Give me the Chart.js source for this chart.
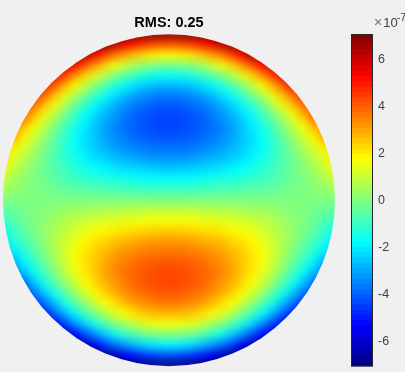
<!DOCTYPE html>
<html>
<head>
<meta charset="utf-8">
<title>RMS: 0.25</title>
<script src="https://cdn.jsdelivr.net/npm/chart.js@4/dist/chart.umd.min.js"></script>
<style>
    html, body { margin: 0; padding: 0; background: #f0f0f0; }
    body { position: relative; width: 405px; height: 372px; overflow: hidden; }
    canvas { position: absolute; display: block; }
    #disc-chart { left: -31px; top: 0; }
    #colorbar-chart { left: 340px; top: 0; }
    #exponent {
        position: absolute; left: 374px; top: 14px; white-space: nowrap;
        font: 13px "Liberation Sans", sans-serif; color: #404040;
    }
    #exponent .times { color: #707070; font-size: 14px; margin-right: 1px; }
    #exponent sup { font-size: 11px; line-height: 0; vertical-align: 6px; margin-left: -1px; }
</style>
</head>
<body>
<canvas id="disc-chart" width="400" height="400"></canvas>
<canvas id="colorbar-chart" width="65" height="382"></canvas>
<div id="exponent"><span class="times">×</span>10<sup>-7</sup></div>

<script>
const chartTitle = 'RMS: 0.25';
const colorbarTicks = [-6, -4, -2, 0, 2, 4, 6];
const colorMin = -7.05;
const colorMax = 7.09;
const colorLevelCount = 64;

// Values in units of 1e-7, top row first. Rows are centred on the disc axis.
// Cells past the rim just hold the rim colour so the blur has something to pull in.
const cellRows = [
    [7.0,7.1,7.1,7.1,7.1,7.1,7.1,7.1,7.1,7.1,7.1,7.1,7.0],
    [6.7,6.9,7.0,7.1,7.1,7.1,7.1,7.1,7.1,7.1,7.1,7.1,7.1,7.1,7.0,6.9,6.7],
    [6.3,6.5,6.7,6.8,7.0,7.1,7.1,7.1,7.1,7.1,7.0,7.1,7.1,7.1,7.1,7.1,7.0,6.8,6.7,6.5,6.3],
    [5.9,6.0,6.2,6.4,6.6,6.7,6.9,6.1,5.4,4.9,4.5,4.3,4.2,4.3,4.5,4.9,5.4,6.1,6.9,6.7,6.6,6.4,6.2,6.0,5.9],
    [5.5,5.7,5.9,6.1,6.3,6.5,5.3,4.4,3.6,3.0,2.5,2.1,1.9,1.8,1.9,2.1,2.5,3.0,3.6,4.4,5.3,6.5,6.3,6.1,5.9,5.7,5.5],
    [5.2,5.4,5.5,5.7,6.0,5.3,4.2,3.2,2.3,1.6,1.0,0.5,0.2,0,-0.1,0,0.2,0.5,1.0,1.6,2.3,3.2,4.2,5.3,6.0,5.7,5.5,5.4,5.2],
    [4.8,5.0,5.2,5.4,5.6,4.5,3.3,2.3,1.4,0.6,-0.1,-0.6,-1.1,-1.4,-1.6,-1.6,-1.6,-1.4,-1.1,-0.6,-0.1,0.6,1.4,2.3,3.3,4.5,5.6,5.4,5.2,5.0,4.8],
    [4.5,4.7,4.9,5.1,4.0,2.8,1.8,0.8,0,-0.8,-1.4,-1.9,-2.3,-2.6,-2.7,-2.8,-2.7,-2.6,-2.3,-1.9,-1.4,-0.8,0,0.8,1.8,2.8,4.0,5.1,4.9,4.7,4.5],
    [4.1,4.3,4.5,4.7,3.8,2.6,1.5,0.5,-0.3,-1.1,-1.8,-2.3,-2.8,-3.2,-3.4,-3.6,-3.6,-3.6,-3.4,-3.2,-2.8,-2.3,-1.8,-1.1,-0.3,0.5,1.5,2.6,3.8,4.7,4.5,4.3,4.1],
    [3.8,4.0,4.2,3.7,2.5,1.5,0.5,-0.4,-1.2,-1.9,-2.5,-3.0,-3.4,-3.7,-3.9,-4.1,-4.1,-4.1,-3.9,-3.7,-3.4,-3.0,-2.5,-1.9,-1.2,-0.4,0.5,1.5,2.5,3.7,4.2,4.0,3.8],
    [3.4,3.5,3.7,3.9,2.6,1.5,0.6,-0.3,-1.1,-1.8,-2.4,-2.9,-3.3,-3.7,-4.0,-4.2,-4.3,-4.4,-4.3,-4.2,-4.0,-3.7,-3.3,-2.9,-2.4,-1.8,-1.1,-0.3,0.6,1.5,2.6,3.9,3.7,3.5,3.4],
    [3.1,3.2,3.4,2.7,1.7,0.8,0,-0.8,-1.5,-2.1,-2.6,-3.1,-3.5,-3.8,-4.0,-4.2,-4.3,-4.4,-4.3,-4.2,-4.0,-3.8,-3.5,-3.1,-2.6,-2.1,-1.5,-0.8,0,0.8,1.7,2.7,3.4,3.2,3.1],
    [2.6,2.7,2.9,3.0,1.9,1.1,0.3,-0.4,-1.1,-1.7,-2.2,-2.6,-3.0,-3.4,-3.6,-3.9,-4.0,-4.1,-4.1,-4.1,-4.0,-3.9,-3.6,-3.4,-3.0,-2.6,-2.2,-1.7,-1.1,-0.4,0.3,1.1,1.9,3.0,2.9,2.7,2.6],
    [2.3,2.4,2.5,2.0,1.3,0.6,0,-0.6,-1.2,-1.7,-2.1,-2.5,-2.8,-3.1,-3.3,-3.5,-3.6,-3.7,-3.7,-3.7,-3.6,-3.5,-3.3,-3.1,-2.8,-2.5,-2.1,-1.7,-1.2,-0.6,0,0.6,1.3,2.0,2.5,2.4,2.3],
    [1.9,2.0,2.1,1.4,0.8,0.3,-0.2,-0.7,-1.1,-1.5,-1.9,-2.2,-2.4,-2.7,-2.8,-3.0,-3.1,-3.2,-3.2,-3.2,-3.1,-3.0,-2.8,-2.7,-2.4,-2.2,-1.9,-1.5,-1.1,-0.7,-0.2,0.3,0.8,1.4,2.1,2.0,1.9],
    [1.4,1.5,1.6,1.0,0.5,0.1,-0.3,-0.6,-0.9,-1.2,-1.5,-1.7,-1.9,-2.1,-2.2,-2.3,-2.4,-2.5,-2.5,-2.5,-2.4,-2.3,-2.2,-2.1,-1.9,-1.7,-1.5,-1.2,-0.9,-0.6,-0.3,0.1,0.5,1.0,1.6,1.5,1.4],
    [0.9,1.0,1.0,0.6,0.3,0,-0.2,-0.5,-0.7,-0.9,-1.1,-1.2,-1.3,-1.4,-1.5,-1.6,-1.7,-1.7,-1.7,-1.7,-1.7,-1.6,-1.5,-1.4,-1.3,-1.2,-1.1,-0.9,-0.7,-0.5,-0.2,0,0.3,0.6,1.0,1.0,0.9],
    [0.5,0.5,0.5,0.3,0.1,0,-0.1,-0.2,-0.4,-0.5,-0.5,-0.6,-0.7,-0.7,-0.8,-0.8,-0.9,-0.9,-0.9,-0.9,-0.9,-0.8,-0.8,-0.7,-0.7,-0.6,-0.5,-0.5,-0.4,-0.2,-0.1,0,0.1,0.3,0.5,0.5,0.5],
    [0,0,0,0,0,0,0,0,0,0,0,0,0,0,0,0,0,0,0,0,0,0,0,0,0,0,0,0,0,0,0,0,0,0,0,0,0],
    [-0.5,-0.5,-0.5,-0.3,-0.1,0,0.1,0.2,0.4,0.5,0.5,0.6,0.7,0.7,0.8,0.8,0.9,0.9,0.9,0.9,0.9,0.8,0.8,0.7,0.7,0.6,0.5,0.5,0.4,0.2,0.1,0,-0.1,-0.3,-0.5,-0.5,-0.5],
    [-0.9,-1.0,-1.0,-0.6,-0.3,0,0.2,0.5,0.7,0.9,1.1,1.2,1.3,1.4,1.5,1.6,1.7,1.7,1.7,1.7,1.7,1.6,1.5,1.4,1.3,1.2,1.1,0.9,0.7,0.5,0.2,0,-0.3,-0.6,-1.0,-1.0,-0.9],
    [-1.4,-1.5,-1.6,-1.0,-0.5,-0.1,0.3,0.6,0.9,1.2,1.5,1.7,1.9,2.1,2.2,2.3,2.4,2.5,2.5,2.5,2.4,2.3,2.2,2.1,1.9,1.7,1.5,1.2,0.9,0.6,0.3,-0.1,-0.5,-1.0,-1.6,-1.5,-1.4],
    [-1.9,-2.0,-2.1,-1.4,-0.8,-0.3,0.2,0.7,1.1,1.5,1.9,2.2,2.4,2.7,2.8,3.0,3.1,3.2,3.2,3.2,3.1,3.0,2.8,2.7,2.4,2.2,1.9,1.5,1.1,0.7,0.2,-0.3,-0.8,-1.4,-2.1,-2.0,-1.9],
    [-2.3,-2.4,-2.5,-2.0,-1.3,-0.6,0,0.6,1.2,1.7,2.1,2.5,2.8,3.1,3.3,3.5,3.6,3.7,3.7,3.7,3.6,3.5,3.3,3.1,2.8,2.5,2.1,1.7,1.2,0.6,0,-0.6,-1.3,-2.0,-2.5,-2.4,-2.3],
    [-2.6,-2.7,-2.9,-3.0,-1.9,-1.1,-0.3,0.4,1.1,1.7,2.2,2.6,3.0,3.4,3.6,3.9,4.0,4.1,4.1,4.1,4.0,3.9,3.6,3.4,3.0,2.6,2.2,1.7,1.1,0.4,-0.3,-1.1,-1.9,-3.0,-2.9,-2.7,-2.6],
    [-3.1,-3.2,-3.4,-2.7,-1.7,-0.8,0,0.8,1.5,2.1,2.6,3.1,3.5,3.8,4.0,4.2,4.3,4.4,4.3,4.2,4.0,3.8,3.5,3.1,2.6,2.1,1.5,0.8,0,-0.8,-1.7,-2.7,-3.4,-3.2,-3.1],
    [-3.4,-3.5,-3.7,-3.9,-2.6,-1.5,-0.6,0.3,1.1,1.8,2.4,2.9,3.3,3.7,4.0,4.2,4.3,4.4,4.3,4.2,4.0,3.7,3.3,2.9,2.4,1.8,1.1,0.3,-0.6,-1.5,-2.6,-3.9,-3.7,-3.5,-3.4],
    [-3.8,-4.0,-4.2,-3.7,-2.5,-1.5,-0.5,0.4,1.2,1.9,2.5,3.0,3.4,3.7,3.9,4.1,4.1,4.1,3.9,3.7,3.4,3.0,2.5,1.9,1.2,0.4,-0.5,-1.5,-2.5,-3.7,-4.2,-4.0,-3.8],
    [-4.1,-4.3,-4.5,-4.7,-3.8,-2.6,-1.5,-0.5,0.3,1.1,1.8,2.3,2.8,3.2,3.4,3.6,3.6,3.6,3.4,3.2,2.8,2.3,1.8,1.1,0.3,-0.5,-1.5,-2.6,-3.8,-4.7,-4.5,-4.3,-4.1],
    [-4.5,-4.7,-4.9,-5.1,-4.0,-2.8,-1.8,-0.8,0,0.8,1.4,1.9,2.3,2.6,2.7,2.8,2.7,2.6,2.3,1.9,1.4,0.8,0,-0.8,-1.8,-2.8,-4.0,-5.1,-4.9,-4.7,-4.5],
    [-4.8,-5.0,-5.2,-5.4,-5.6,-4.5,-3.3,-2.3,-1.4,-0.6,0.1,0.6,1.1,1.4,1.6,1.6,1.6,1.4,1.1,0.6,0.1,-0.6,-1.4,-2.3,-3.3,-4.5,-5.6,-5.4,-5.2,-5.0,-4.8],
    [-5.2,-5.4,-5.5,-5.7,-6.0,-5.3,-4.2,-3.2,-2.3,-1.6,-1.0,-0.5,-0.2,0,0.1,0,-0.2,-0.5,-1.0,-1.6,-2.3,-3.2,-4.2,-5.3,-6.0,-5.7,-5.5,-5.4,-5.2],
    [-5.5,-5.7,-5.9,-6.1,-6.3,-6.5,-5.3,-4.4,-3.6,-3.0,-2.5,-2.1,-1.9,-1.8,-1.9,-2.1,-2.5,-3.0,-3.6,-4.4,-5.3,-6.5,-6.3,-6.1,-5.9,-5.7,-5.5],
    [-5.9,-6.0,-6.2,-6.4,-6.6,-6.7,-6.9,-6.1,-5.4,-4.9,-4.5,-4.3,-4.2,-4.3,-4.5,-4.9,-5.4,-6.1,-6.9,-6.7,-6.6,-6.4,-6.2,-6.0,-5.9],
    [-6.3,-6.5,-6.7,-6.8,-7.0,-7.1,-7.1,-7.1,-7.1,-7.1,-7.0,-7.1,-7.1,-7.1,-7.1,-7.1,-7.0,-6.8,-6.7,-6.5,-6.3],
    [-6.7,-6.9,-7.0,-7.1,-7.1,-7.1,-7.1,-7.1,-7.1,-7.1,-7.1,-7.1,-7.1,-7.1,-7.0,-6.9,-6.7],
    [-7.0,-7.1,-7.1,-7.1,-7.1,-7.1,-7.1,-7.1,-7.1,-7.1,-7.1,-7.1,-7.0]
];

const cellsPerRadius = 16;
const backgroundColor = '#f0f0f0';
const textColor = '#404040';

function jetColor(t) {
    const channel = center => Math.round(255 * Math.min(1, Math.max(0, 1.5 - Math.abs(4 * t - center))));
    return `rgb(${channel(3)}, ${channel(2)}, ${channel(1)})`;
}

// Where a value sits on the colour range, 0 to 1
function colorPosition(value) {
    return Math.min(1, Math.max(0, (value - colorMin) / (colorMax - colorMin)));
}

// Turn the rows into points on the unit disc
const cells = [];
const middleRow = (cellRows.length - 1) / 2;
cellRows.forEach((row, r) => {
    row.forEach((value, c) => {
        cells.push({
            x: (c - (row.length - 1) / 2) / cellsPerRadius,
            y: (middleRow - r) / cellsPerRadius,
            value: value
        });
    });
});

// Smooth the cells and cut them to the circle
const discPlugin = {
    id: 'disc',
    afterDatasetsDraw(chart) {
        const { ctx, canvas, scales } = chart;
        const snapshot = document.createElement('canvas');
        snapshot.width = canvas.width;
        snapshot.height = canvas.height;
        snapshot.getContext('2d').drawImage(canvas, 0, 0);

        const centerX = scales.x.getPixelForValue(0);
        const centerY = scales.y.getPixelForValue(0);
        const radius = scales.x.getPixelForValue(1) - centerX;

        ctx.save();
        ctx.fillStyle = backgroundColor;
        ctx.fillRect(0, 0, canvas.width, canvas.height);
        ctx.beginPath();
        ctx.arc(centerX, centerY, radius, 0, Math.PI * 2);
        ctx.clip();
        ctx.filter = 'blur(4.5px)';
        ctx.drawImage(snapshot, 0, 0);
        ctx.restore();

        chart.titleBlock.draw();
    }
};

new Chart(document.getElementById('disc-chart'), {
    type: 'scatter',
    data: {
        datasets: [{
            data: cells,
            clip: false,
            pointStyle: 'rect',
            pointRadius: 8,
            pointBorderWidth: 0,
            pointBackgroundColor: ctx => jetColor(colorPosition(ctx.raw.value))
        }]
    },
    options: {
        responsive: false,
        animation: false,
        events: [],
        layout: { padding: { left: 34, right: 34, top: 8, bottom: 34 } },
        scales: {
            x: { type: 'linear', min: -1, max: 1, display: false },
            y: { type: 'linear', min: -1, max: 1, display: false }
        },
        plugins: {
            legend: { display: false },
            tooltip: { enabled: false },
            title: {
                display: true,
                text: chartTitle,
                color: '#000',
                font: { family: '"Liberation Sans", sans-serif', size: 14.5, weight: 'bold' },
                padding: { top: 6, bottom: 3 }
            }
        }
    },
    plugins: [discPlugin]
});

// One bar per colour band, each reaching to the top so no seams show.
// Chart.js paints the first dataset last, so the top band goes first.
const colorBands = [];
for (let i = colorLevelCount - 1; i >= 0; i--) {
    colorBands.push(colorMin + (colorMax - colorMin) * i / colorLevelCount);
}

const framePlugin = {
    id: 'frame',
    afterDatasetsDraw(chart) {
        const { ctx, chartArea } = chart;
        ctx.save();
        ctx.strokeStyle = '#262626';
        ctx.lineWidth = 1;
        ctx.strokeRect(chartArea.left + 0.5, chartArea.top + 0.5, chartArea.width - 1, chartArea.height - 1);
        ctx.restore();
    }
};

new Chart(document.getElementById('colorbar-chart'), {
    type: 'bar',
    data: {
        labels: [''],
        datasets: colorBands.map(low => ({
            data: [[low, colorMax]],
            backgroundColor: jetColor(colorPosition(low) + 0.5 / colorLevelCount),
            borderWidth: 0,
            grouped: false,
            barPercentage: 1,
            categoryPercentage: 1
        }))
    },
    options: {
        responsive: false,
        animation: false,
        events: [],
        layout: { autoPadding: false, padding: { left: 11, top: 34, bottom: 6 } },
        scales: {
            x: { display: false },
            y: {
                position: 'right',
                min: colorMin,
                max: colorMax,
                afterBuildTicks(scale) {
                    scale.ticks = colorbarTicks.map(value => ({ value }));
                },
                afterFit(scale) {
                    scale.width = 32;
                },
                border: { display: false },
                grid: { drawOnChartArea: false, tickLength: -3, tickColor: '#262626' },
                ticks: {
                    color: textColor,
                    padding: 8,
                    font: { family: '"Liberation Sans", sans-serif', size: 12.5 }
                }
            }
        },
        plugins: {
            legend: { display: false },
            tooltip: { enabled: false }
        }
    },
    plugins: [framePlugin]
});
</script>
</body>
</html>
